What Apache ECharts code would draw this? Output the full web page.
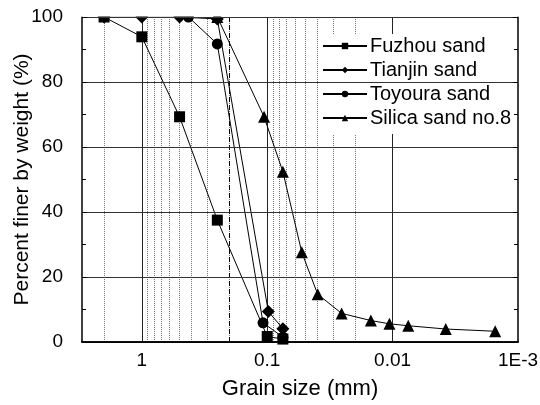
<!DOCTYPE html>
<html>
<head>
<meta charset="utf-8">
<script src="https://cdn.jsdelivr.net/npm/echarts@6/dist/echarts.min.js"></script>
<style>html,body{margin:0;padding:0;background:#fff}#c{width:540px;height:405px}</style>
</head>
<body>
<div id="c"></div>
<script>
// ---- data ----
var seriesNames = ['Fuzhou sand', 'Tianjin sand', 'Toyoura sand', 'Silica sand no.8'];
var fuzhouSize = [2, 1, 0.5, 0.25, 0.1, 0.075];
var fuzhouPct  = [100, 93.9, 69.3, 37.5, 1.7, 0.9];
var tianjinSize = [2, 1, 0.5, 0.25, 0.098, 0.075];
var tianjinPct  = [100, 100, 100, 99.4, 9.4, 4.1];
var toyouraSize = [0.425, 0.25, 0.108, 0.075];
var toyouraPct  = [100, 91.7, 5.9, 1.5];
var silicaSize = [0.25, 0.106, 0.075, 0.053, 0.0396, 0.0255, 0.0149, 0.0106, 0.0075, 0.00377, 0.00152];
var silicaPct  = [100, 69.3, 52.4, 27.6, 14.7, 8.8, 6.6, 5.6, 5.0, 4.0, 3.3];
var xTickLabels = {'0': '1', '-1': '0.1', '-2': '0.01', '-3': '1E-3'};
var yTicks = [0, 20, 40, 60, 80, 100];
var dashedRef = [0.2];
var decades = [1, 0.1, 0.01, 0.001];

// ---- grid lines (log minor) ----
var majorLines = [], minorLines = [];
decades.forEach(function (d) {
  if (d >= 0.01) majorLines.push(d);
  for (var k = 2; k <= 9; k++) {
    var v = +(k * d).toPrecision(6);
    if (v < 3 && v > 0.001) minorLines.push(v);
  }
});

function pairs(xs, ys) { return xs.map(function (x, i) { return [x, ys[i]]; }); }

var L = 82, R = 22, T = 17, B = 63;
var font = 'Arial, "Liberation Sans", sans-serif';

function mkSeries(name, xs, ys, sym, size) {
  return {
    name: name, type: 'line', data: pairs(xs, ys),
    symbol: sym, symbolSize: size,
    itemStyle: { color: '#000' },
    lineStyle: { color: '#000', width: 1 },
    z: 5, animation: false
  };
}

var series = [
  mkSeries(seriesNames[0], fuzhouSize, fuzhouPct, 'rect', 11),
  mkSeries(seriesNames[1], tianjinSize, tianjinPct, 'diamond', 13),
  mkSeries(seriesNames[2], toyouraSize, toyouraPct, 'circle', 11),
  mkSeries(seriesNames[3], silicaSize, silicaPct, 'triangle', 12)
];
// helper series carrying vertical grid lines
series.push({
  type: 'line', data: [], silent: true, z: 1, animation: false,
  markLine: {
    symbol: 'none', silent: true, animation: false,
    label: { show: false },
    data: []
      .concat(minorLines.map(function (v) { return { xAxis: v, lineStyle: { color: '#777', type: [1, 1], width: 1 } }; }))
      .concat(majorLines.map(function (v) { return { xAxis: v, lineStyle: { color: '#222', type: 'solid', width: 1 } }; }))
      .concat(dashedRef.map(function (v) { return { xAxis: v, lineStyle: { color: '#000', type: [5, 3], width: 1 } }; }))
  }
});

var chart = echarts.init(document.getElementById('c'), null, { renderer: 'canvas' });
chart.setOption({
  backgroundColor: '#fff',
  animation: false,
  grid: { left: L, right: R, top: T, bottom: B, show: false, containLabel: false, outerBoundsMode: 'none' },
  legend: {
    data: seriesNames,
    orient: 'vertical',
    left: 320, top: 34,
    itemWidth: 44, itemHeight: 8, itemGap: 4,
    padding: [2, 6, 6, 2],
    backgroundColor: '#fff',
    textStyle: { fontFamily: font, fontSize: 20, color: '#000', padding: [0, 0, 0, -2] },
    z: 20
  },
  xAxis: [{
    type: 'log', logBase: 10, min: 0.001, max: 3, inverse: true,
    name: 'Grain size (mm)', nameLocation: 'middle', nameGap: 36, nameMoveOverlap: false,
    nameTextStyle: { fontFamily: font, fontSize: 22, color: '#000' },
    axisLine: { show: true, lineStyle: { color: '#000', width: 1.5 } },
    axisTick: { show: false },
    splitLine: { show: false },
    axisLabel: {
      fontFamily: font, fontSize: 19, color: '#000', margin: 9,
      showMinLabel: true, showMaxLabel: true,
      formatter: function (v) {
        var e = Math.log10(v), r = Math.round(e);
        if (Math.abs(e - r) < 1e-6 && xTickLabels[String(r)] !== undefined) return xTickLabels[String(r)];
        return '';
      }
    },
    z: 30
  }, {
    type: 'log', logBase: 10, min: 0.001, max: 3, inverse: true, position: 'top',
    axisLine: { show: true, lineStyle: { color: '#000', width: 1.5 } },
    axisTick: { show: false }, axisLabel: { show: false }, splitLine: { show: false },
    zlevel: 2, z: 30
  }],
  yAxis: [{
    type: 'value', min: yTicks[0], max: yTicks[yTicks.length - 1], interval: 20,
    name: 'Percent finer by weight (%)', nameLocation: 'middle', nameGap: 49, nameMoveOverlap: false,
    nameTextStyle: { fontFamily: font, fontSize: 21, color: '#000' },
    axisLine: { show: true, lineStyle: { color: '#000', width: 1.5 } },
    axisTick: { show: true, inside: true, length: 5, lineStyle: { color: '#000' } },
    minorTick: { show: true, splitNumber: 2, length: 4, lineStyle: { color: '#000' } },
    axisLabel: { fontFamily: font, fontSize: 19, color: '#000', margin: 19 },
    splitLine: { show: true, lineStyle: { color: '#333', width: 1 } },
    z: 30
  }, {
    type: 'value', min: yTicks[0], max: yTicks[yTicks.length - 1], interval: 20, position: 'right',
    axisLine: { show: true, lineStyle: { color: '#000', width: 1.5 } },
    axisTick: { show: true, inside: true, length: 5, lineStyle: { color: '#000' } },
    minorTick: { show: true, splitNumber: 2, length: 4, lineStyle: { color: '#000' } },
    axisLabel: { show: false }, splitLine: { show: false },
    z: 30
  }],
  graphic: [{
    type: 'rect', zlevel: 1, z: 25, silent: true,
    shape: { x: L - 1, y: 0, width: 540 - L - R + 2, height: T - 0.5 },
    style: { fill: '#fff' }
  }],
  series: series
});
</script>
</body>
</html>
